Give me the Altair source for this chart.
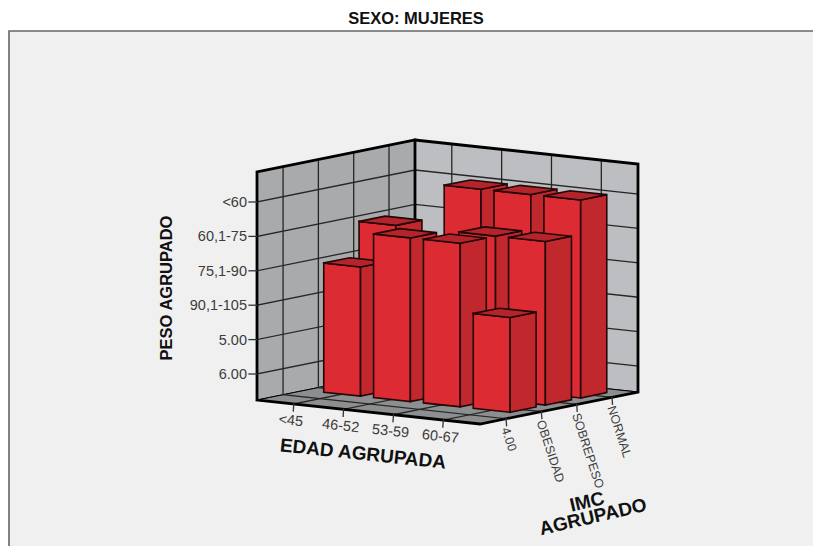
import altair as alt
import pandas as pd

# Category labels of the three axes
EDAD = ["<45", "46-52", "53-59", "60-67"]
IMC = ["4.00", "OBESIDAD", "SOBREPESO", "NORMAL"]
PESO = ["6.00", "5.00", "90,1-105", "75,1-90", "60,1-75", "<60"]

# One entry per bar: age group, BMI group and weight group reached
bar_edad = ["46-52", "53-59", "60-67",
            "<45", "53-59", "60-67",
            "<45", "46-52", "53-59", "60-67"]
bar_imc = ["NORMAL", "NORMAL", "NORMAL",
           "SOBREPESO", "SOBREPESO", "SOBREPESO",
           "OBESIDAD", "OBESIDAD", "OBESIDAD", "OBESIDAD"]
bar_peso = ["<60", "<60", "<60",
            "60,1-75", "60,1-75", "60,1-75",
            "75,1-90", "60,1-75", "60,1-75", "90,1-105"]

# Oblique projection of the 3D box onto the page
ORIGIN = (257.0, 400.0)
EDAD_AXIS = (223.0, 24.0)
IMC_AXIS = (158.0, -32.0)
BOX_HEIGHT = 228.0
LEVEL_BASE = 26.0
LEVEL_STEP = 34.4
CAT_START = 0.165
CAT_STEP = 0.2235
BAR_HALF = 0.0825


def project(u, v, h=0.0):
    x = ORIGIN[0] + u * EDAD_AXIS[0] + v * IMC_AXIS[0]
    y = ORIGIN[1] + u * EDAD_AXIS[1] + v * IMC_AXIS[1] - h
    return x, y


def cat_pos(i):
    return CAT_START + CAT_STEP * i


def level(k):
    return LEVEL_BASE + LEVEL_STEP * k


rows = []


def add_path(points, fill="transparent", stroke="#000000", width=1.0):
    pid = len({r["path"] for r in rows})
    for n, (x, y) in enumerate(points):
        rows.append({"path": pid, "n": n, "x": x, "y": y,
                     "fill": fill, "stroke": stroke, "width": width})


def add_face(corners, fill, stroke, width):
    add_path(corners + [corners[0]], fill, stroke, width)


WALL_LEFT = "#a9aaac"
WALL_RIGHT = "#bcbec1"
FLOOR = "#8c8e90"
GRID = "#262626"
EDGE = "#000000"
BAR_FRONT = "#dc2b32"
BAR_SIDE = "#c1282d"
BAR_TOP = "#b3252b"
BAR_LINE = "#220608"
TICK = "#333333"

# Page panel
add_face([(9, 31), (830, 31), (830, 560), (9, 560)], "#f0f0f0", "#666666", 1.6)

# Walls and floor
add_face([project(0, 0), project(0, 1), project(0, 1, BOX_HEIGHT), project(0, 0, BOX_HEIGHT)],
         WALL_LEFT, EDGE, 1.0)
add_face([project(0, 1), project(1, 1), project(1, 1, BOX_HEIGHT), project(0, 1, BOX_HEIGHT)],
         WALL_RIGHT, EDGE, 1.0)
add_face([project(0, 0), project(1, 0), project(1, 1), project(0, 1)], FLOOR, EDGE, 1.0)

# Grid lines on walls and floor
for i in range(len(EDAD)):
    u = cat_pos(i)
    add_path([project(u, 0), project(u, 1), project(u, 1, BOX_HEIGHT)], stroke=GRID, width=1.3)
for j in range(len(IMC)):
    v = cat_pos(j)
    add_path([project(1, v), project(0, v), project(0, v, BOX_HEIGHT)], stroke=GRID, width=1.3)
for k in range(len(PESO)):
    h = level(k)
    add_path([project(0, 0, h), project(0, 1, h), project(1, 1, h)], stroke=GRID, width=1.3)

# Heavy outline of the box
add_path([project(0, 0), project(0, 0, BOX_HEIGHT), project(0, 1, BOX_HEIGHT),
          project(1, 1, BOX_HEIGHT), project(1, 1), project(1, 0), project(0, 0)],
         stroke=EDGE, width=2.8)
add_path([project(0, 1), project(0, 1, BOX_HEIGHT)], stroke=EDGE, width=2.8)

# Tick marks
for k in range(len(PESO)):
    x, y = project(0, 0, level(k))
    add_path([(x - 8, y), (x, y)], stroke=TICK, width=1.3)
for i in range(len(EDAD)):
    x, y = project(cat_pos(i), 0)
    add_path([(x, y), (x - 0.5, y + 7)], stroke=TICK, width=1.3)
for j in range(len(IMC)):
    x, y = project(1, cat_pos(j))
    add_path([(x, y), (x + 0.5, y + 7)], stroke=TICK, width=1.3)

# Bars, painted from the back corner towards the viewer
order = sorted(range(len(bar_edad)),
               key=lambda b: (-IMC.index(bar_imc[b]), EDAD.index(bar_edad[b])))
for b in order:
    uc = cat_pos(EDAD.index(bar_edad[b]))
    vc = cat_pos(IMC.index(bar_imc[b]))
    h = level(PESO.index(bar_peso[b]))
    u0, u1 = uc - BAR_HALF, uc + BAR_HALF
    v0, v1 = vc - BAR_HALF, vc + BAR_HALF
    add_face([project(u0, v0), project(u1, v0), project(u1, v0, h), project(u0, v0, h)],
             BAR_FRONT, BAR_LINE, 1.6)
    add_face([project(u1, v0), project(u1, v1), project(u1, v1, h), project(u1, v0, h)],
             BAR_SIDE, BAR_LINE, 1.6)
    add_face([project(u0, v0, h), project(u1, v0, h), project(u1, v1, h), project(u0, v1, h)],
             BAR_TOP, BAR_LINE, 1.6)

# Text labels
plain = []
for k, name in enumerate(PESO):
    x, y = project(0, 0, level(k))
    plain.append({"t": name, "x": x - 10, "y": y + 1, "a": 0, "s": 14.5, "al": "right"})
for i, name in enumerate(EDAD):
    x, y = project(cat_pos(i), 0)
    plain.append({"t": name, "x": x - 3, "y": y + 17, "a": 6, "s": 14.5, "al": "center"})
for j, name in enumerate(IMC):
    x, y = project(1, cat_pos(j))
    plain.append({"t": name, "x": x - 1, "y": y + 9, "a": 72, "s": 12.5, "al": "left"})
bold = [
    {"t": "SEXO: MUJERES", "x": 416, "y": 19, "a": 0, "s": 16.5, "al": "center"},
    {"t": "PESO AGRUPADO", "x": 167, "y": 288, "a": 270, "s": 16.5, "al": "center"},
    {"t": "EDAD AGRUPADA", "x": 363, "y": 454, "a": 6, "s": 19, "al": "center"},
    {"t": "IMC", "x": 587, "y": 502, "a": 347, "s": 19, "al": "center"},
    {"t": "AGRUPADO", "x": 593, "y": 517, "a": 347, "s": 19, "al": "center"},
]

x_scale = alt.Scale(domain=[0, 813], range=[0, 813], nice=False, zero=False)
y_scale = alt.Scale(domain=[0, 546], range=[0, 546], nice=False, zero=False)
X = alt.X("x:Q", scale=x_scale, axis=None)
Y = alt.Y("y:Q", scale=y_scale, axis=None)

shapes = alt.Chart(pd.DataFrame(rows)).mark_line(
    strokeJoin="miter", strokeCap="square", clip=True
).encode(
    x=X, y=Y,
    detail="path:N",
    order="n:Q",
    fill=alt.Fill("fill:N", scale=None),
    stroke=alt.Stroke("stroke:N", scale=None),
    strokeWidth=alt.StrokeWidth("width:Q", scale=None),
)


def text_layer(records, align, weight, color):
    subset = [r for r in records if r["al"] == align]
    return alt.Chart(pd.DataFrame(subset)).mark_text(
        font="Liberation Sans", align=align, baseline="middle",
        fontWeight=weight, color=color
    ).encode(
        x=X, y=Y, text="t:N",
        angle=alt.Angle("a:Q", scale=None),
        size=alt.Size("s:Q", scale=None),
    )


chart = alt.layer(
    shapes,
    text_layer(plain, "right", "normal", "#3c3c3c"),
    text_layer(plain, "center", "normal", "#3c3c3c"),
    text_layer(plain, "left", "normal", "#3c3c3c"),
    text_layer(bold, "center", "bold", "#111111"),
).properties(
    width=813, height=546, padding=0,
    autosize=alt.AutoSizeParams(type="none"),
    background="#ffffff",
).configure_view(stroke=None)

chart.save("out.html", embed_options={"renderer": "svg", "actions": False})
